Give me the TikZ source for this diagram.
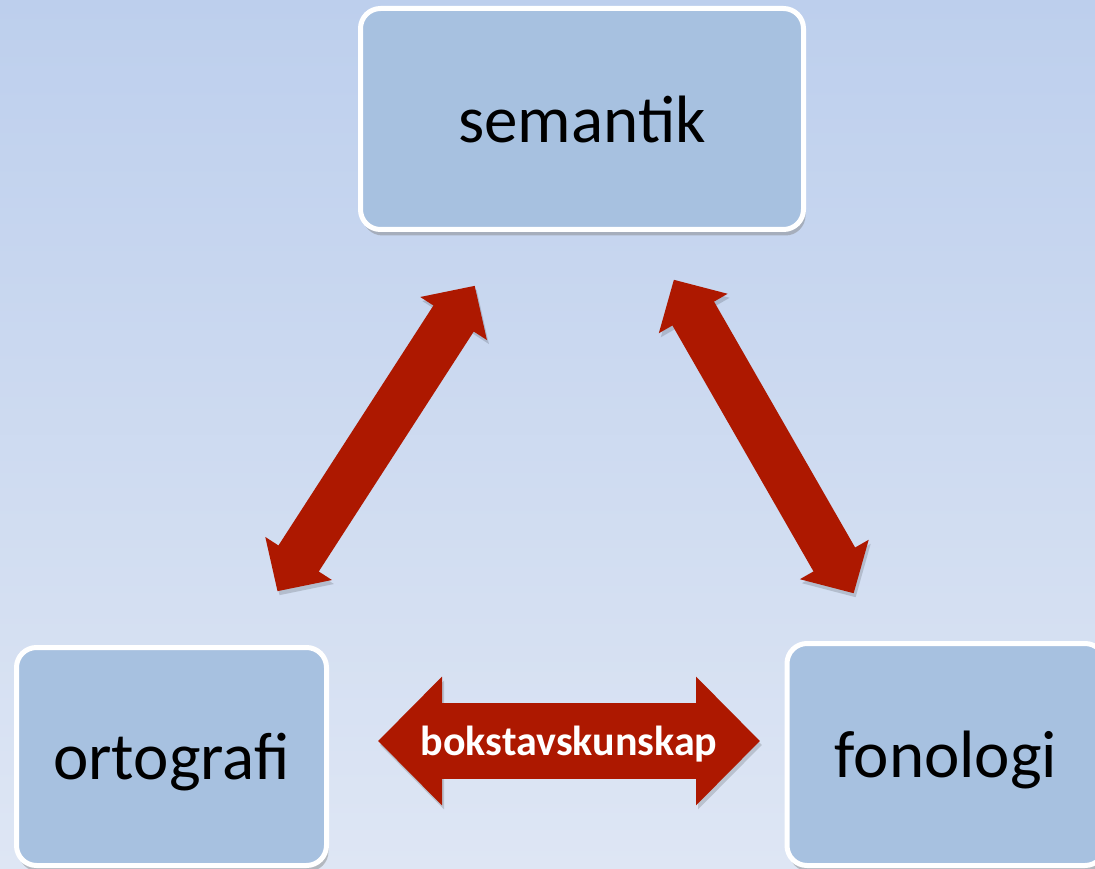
\documentclass[tikz,border=0pt]{standalone}
\usepackage{fontspec}
\setmainfont{Carlito}
\usetikzlibrary{arrows.meta,shadows}
\definecolor{boxblue}{HTML}{A7C1E0}
\definecolor{linkred}{HTML}{AD1800}
\definecolor{bgtop}{HTML}{BDCFED}
\definecolor{bgbottom}{HTML}{DEE6F4}
\begin{document}
\begin{tikzpicture}[x=1pt, y=-1pt]
  \tikzset{
    box/.style={draw=white, line width=5pt, fill=boxblue, rounded corners=20pt,
      inner sep=0pt, text depth=0pt, font=\fontsize{67}{80}\selectfont,
      drop shadow={shadow xshift=2pt, shadow yshift=-6pt, opacity=0.45}},
    link/.style={line width=48pt, draw=linkred,
      {Triangle[length=39pt,width=77pt]}-{Triangle[length=39pt,width=77pt]},
      preaction={draw=black, opacity=0.15, transform canvas={shift={(2pt,-4pt)}}}},
    wide link/.style={line width=76pt, draw=linkred,
      {Triangle[length=64pt,width=125pt]}-{Triangle[length=64pt,width=125pt]},
      preaction={draw=black, opacity=0.15, transform canvas={shift={(2pt,-4pt)}}}}
  }

  % Background
  \shade[top color=bgtop, bottom color=bgbottom] (0,0) rectangle (1095,869);
  \useasboundingbox (0,0) rectangle (1095,869);

  % Boxes
  \node[box, minimum width=443pt, minimum height=221pt] (sem) at (582,119) {semantik};
  \node[box, minimum width=310pt, minimum height=218pt] (ort) at (171.5,756.5) {ortografi};
  \node[box, minimum width=318pt, minimum height=222pt] (fon) at (946,754.5) {fonologi};

  % Links between the boxes
  \draw[link, shorten <=64pt, shorten >=64pt] (sem) -- (ort);
  \draw[link, shorten <=55pt, shorten >=55pt] (sem) -- (fon);

  \coordinate (bl) at (378,741);
  \coordinate (br) at (760,741);
  \draw[wide link] (bl) -- (br)
    node[midway, text=white, text depth=0pt, font=\bfseries\fontsize{42}{50}\selectfont] {bokstavskunskap};

\end{tikzpicture}
\end{document}
